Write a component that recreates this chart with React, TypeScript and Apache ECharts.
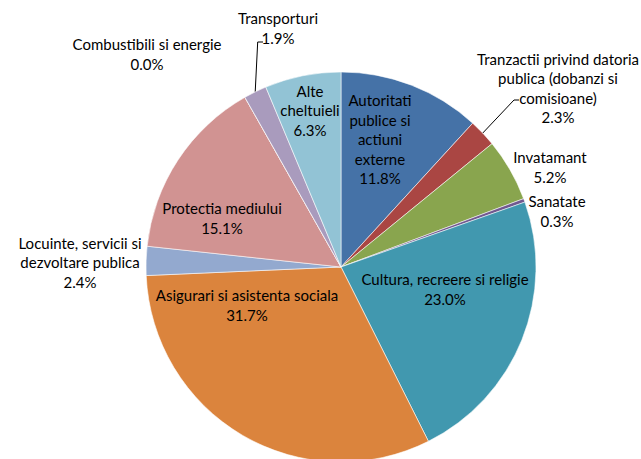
import React, { useEffect, useRef } from "react";
import * as echarts from "echarts";

const categories = [
  "Autoritati\npublice si\nactiuni\nexterne",
  "Tranzactii privind datoria\npublica (dobanzi si\ncomisioane)",
  "Invatamant",
  "Sanatate",
  "Cultura, recreere si religie",
  "Asigurari si asistenta sociala",
  "Locuinte, servicii si\ndezvoltare publica",
  "Protectia mediului",
  "Combustibili si energie",
  "Transporturi",
  "Alte\ncheltuieli",
];

const values = [11.8, 2.3, 5.2, 0.3, 23.0, 31.7, 2.4, 15.1, 0.0, 1.9, 6.3];

const colors = [
  "#4572A7",
  "#AA4643",
  "#89A54E",
  "#71588F",
  "#4198AF",
  "#DB843D",
  "#93A9CF",
  "#D19392",
  "#B9CD96",
  "#A99BBD",
  "#92C3D5",
];

// label block centres (layout only)
const labelPos: [number, number][] = [
  [380, 139],
  [558, 88],
  [550, 167],
  [557, 211],
  [445, 289],
  [247, 305],
  [80, 262],
  [222, 218],
  [147, 54],
  [278, 28],
  [310, 110],
];

export default function App() {
  const ref = useRef<HTMLDivElement>(null);
  useEffect(() => {
    document.body.style.margin = "0";
    const chart = echarts.init(ref.current!, null, { renderer: "svg" });
    chart.setOption({
      animation: false,
      backgroundColor: "#ffffff",
      series: [
        {
          type: "pie",
          center: [341, 267],
          radius: 195,
          startAngle: 90,
          clockwise: true,
          avoidLabelOverlap: false,
          data: categories.map((name, i) => ({
            name,
            value: values[i],
            itemStyle: { color: colors[i] },
            labelLine: { show: i === 1 || i === 9 },
          })),
          itemStyle: { borderColor: "rgba(255,255,255,0.7)", borderWidth: 0.8 },
          label: {
            show: true,
            position: "outside",
            formatter: (p: any) => `${p.name}\n${values[p.dataIndex].toFixed(1)}%`,
            fontFamily: "Lato",
            fontSize: 15,
            lineHeight: 19.5,
            color: "#000",
            align: "center",
          },
          labelLine: {
            show: true,
            lineStyle: { color: "#000", width: 1 },
          },
          labelLayout: (params: any) => {
            const i = params.dataIndex;
            const [x, y] = labelPos[i];
            const res: any = { x, y, align: "center", verticalAlign: "middle" };
            const pts = params.labelLinePoints;
            if (pts && (i === 1 || i === 9)) {
              const s = pts[0];
              if (i === 1) {
                res.labelLinePoints = [s, [514, 100], [519, 100]];
              } else {
                res.labelLinePoints = [s, [257.7, 42], [263, 42]];
              }
            }
            return res;
          },
        },
      ],
    });
    return () => chart.dispose();
  }, []);
  return <div ref={ref} style={{ width: 641, height: 459 }} />;
}
